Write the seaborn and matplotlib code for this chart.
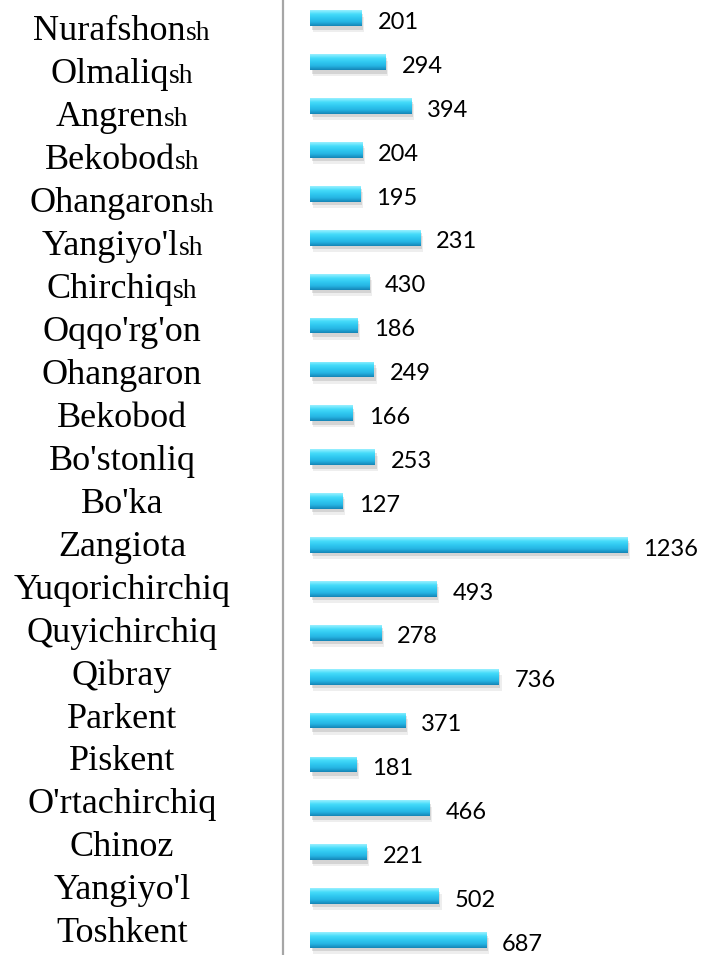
import matplotlib
matplotlib.use('Agg')
import matplotlib.pyplot as plt
import matplotlib.patheffects as pe
from matplotlib.colors import LinearSegmentedColormap
import numpy as np
import pandas as pd
import seaborn as sns

# ---- data (top to bottom) ----
districts = ["Nurafshon", "Olmaliq", "Angren", "Bekobod", "Ohangaron", "Yangiyo'l",
             "Chirchiq", "Oqqo'rg'on", "Ohangaron", "Bekobod", "Bo'stonliq", "Bo'ka",
             "Zangiota", "Yuqorichirchiq", "Quyichirchiq", "Qibray", "Parkent",
             "Piskent", "O'rtachirchiq", "Chinoz", "Yangiyo'l", "Toshkent"]
suffixes = ["sh", "sh", "sh", "sh", "sh", "sh", "sh", "", "", "", "", "",
            "", "", "", "", "", "", "", "", "", ""]
# bar lengths as drawn in the picture
bar_values = [201, 294, 394, 204, 195, 430, 231, 186, 249, 166, 253, 127,
              1236, 493, 278, 736, 371, 181, 466, 221, 502, 687]
# numbers printed next to the bars
value_labels = ["201", "294", "394", "204", "195", "231", "430", "186", "249", "166",
                "253", "127", "1236", "493", "278", "736", "371", "181", "466",
                "221", "502", "687"]

W, H = 701, 955
sns.set_theme(style='white')
plt.rcParams['font.family'] = ['Liberation Serif', 'DejaVu Serif']

fig = plt.figure(figsize=(W / 100, H / 100), dpi=100)
ax = fig.add_axes([283 / W, 0, 1 - 283 / W, 1])

keys = [f"{i}" for i in range(len(districts))]
df = pd.DataFrame({'key': keys, 'value': bar_values})
sns.barplot(data=df, y='key', x='value', orient='h', color='#2cc0ea',
            saturation=1, width=0.36, edgecolor='none', ax=ax)

n = len(districts)
row = 43.93
scale = 0.2565
ylim = (n - 1 + 15 / row, -18.3 / row)
xlim = (-27 / scale, (W - 310) / scale)

for s in ['top', 'right', 'bottom']:
    ax.spines[s].set_visible(False)
ax.spines['left'].set_color('#a6a6a6')
ax.spines['left'].set_linewidth(1.6)
ax.set_xticks([])
ax.set_yticks([])
ax.set_xlabel('')
ax.set_ylabel('')

# gradient fill + soft shadow on each bar
cmap = LinearSegmentedColormap.from_list(
    'bar', ['#9af0ff', '#45dcfa', '#30c8f0', '#25b4e2', '#1585b6'])
grad = np.linspace(0, 1, 64).reshape(-1, 1)
for patch in list(ax.patches):
    x0, y0 = patch.get_x(), patch.get_y()
    w, h = patch.get_width(), patch.get_height()
    patch.set_path_effects([
        pe.SimplePatchShadow(offset=(2.0, -4.5), shadow_rgbFace='#606060', alpha=0.10),
        pe.SimplePatchShadow(offset=(1.2, -2.5), shadow_rgbFace='#606060', alpha=0.18),
        pe.Normal()])
    im = ax.imshow(grad, extent=(x0, x0 + w, y0 + h, y0), aspect='auto', cmap=cmap,
                   origin='upper', zorder=patch.get_zorder() + 0.1, interpolation='bilinear')
    im.set_clip_path(patch)
ax.set_ylim(*ylim)
ax.set_xlim(*xlim)

# value labels
for patch, lab in zip(ax.patches, value_labels):
    ax.annotate(lab, xy=(patch.get_x() + patch.get_width(), patch.get_y() + patch.get_height() / 2),
                xytext=(11.5, -3), textcoords='offset points', ha='left', va='center',
                fontsize=17, family=['Lato', 'DejaVu Sans'], color='#000000')

# category labels (main name + smaller suffix), centred
renderer = fig.canvas.get_renderer()
label_row = 42.94
for i, (name, suf) in enumerate(zip(districts, suffixes)):
    base_y = 1 - (40.5 + label_row * i) / H
    t1 = fig.text(0, base_y, name, fontsize=26, va='baseline', ha='left', color='#000000')
    t2 = fig.text(0, base_y, suf, fontsize=20, va='baseline', ha='left', color='#000000')
    w1 = t1.get_window_extent(renderer).width
    w2 = t2.get_window_extent(renderer).width if suf else 0
    left = 122 - (w1 + w2) / 2
    t1.set_x(left / W)
    t2.set_x((left + w1) / W)

fig.savefig('out.png', dpi=100)
